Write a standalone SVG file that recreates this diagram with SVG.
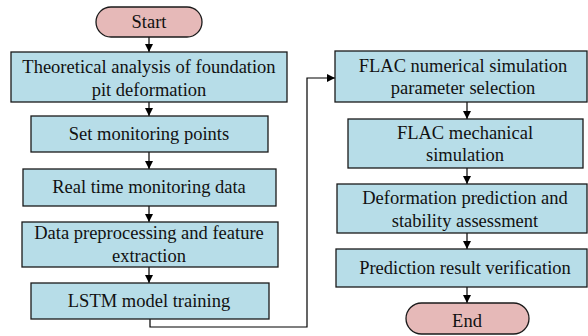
<svg xmlns="http://www.w3.org/2000/svg" width="588" height="336" viewBox="0 0 588 336">
  <style>
    .box { fill: #b7dde8; stroke: #1a1a1a; stroke-width: 1.3; }
    .term { fill: #e6b9b8; stroke: #1a1a1a; stroke-width: 1.3; }
    .lbl { font-family: "Liberation Serif", "DejaVu Serif", serif; font-size: 18.5px; fill: #111; text-anchor: middle; }
    .conn { fill: none; stroke: #000; stroke-width: 1.2; }
  </style>
  <defs>
    <marker id="arrow" viewBox="0 0 10 10" refX="10" refY="5" markerWidth="8" markerHeight="9" markerUnits="userSpaceOnUse" orient="auto">
      <path d="M0,0 L10,5 L0,10 Z" fill="#000"/>
    </marker>
  </defs>

  <rect width="588" height="336" fill="#ffffff"/>

  <g id="connectors">
    <line class="conn" x1="149" y1="37" x2="149" y2="52" marker-end="url(#arrow)"/>
    <line class="conn" x1="149" y1="102" x2="149" y2="116" marker-end="url(#arrow)"/>
    <line class="conn" x1="149" y1="152" x2="149" y2="169" marker-end="url(#arrow)"/>
    <line class="conn" x1="149" y1="206" x2="149" y2="222" marker-end="url(#arrow)"/>
    <line class="conn" x1="149" y1="267" x2="149" y2="283" marker-end="url(#arrow)"/>
    <polyline class="conn" points="150,319 150,327 307,327 307,78 335,78" marker-end="url(#arrow)"/>
    <line class="conn" x1="467" y1="102" x2="467" y2="119" marker-end="url(#arrow)"/>
    <line class="conn" x1="467" y1="168" x2="467" y2="184" marker-end="url(#arrow)"/>
    <line class="conn" x1="467" y1="233" x2="467" y2="249" marker-end="url(#arrow)"/>
    <line class="conn" x1="467" y1="287" x2="467" y2="303" marker-end="url(#arrow)"/>
  </g>

  <g id="start">
    <rect class="term" x="96" y="7" width="106" height="30" rx="15" ry="15"/>
    <text class="lbl" x="149" y="28">Start</text>
  </g>
  <g id="theory">
    <rect class="box" x="11" y="52" width="276" height="50"/>
    <text class="lbl" x="149" y="73">Theoretical analysis of foundation</text>
    <text class="lbl" x="149" y="96">pit deformation</text>
  </g>
  <g id="set-points">
    <rect class="box" x="31" y="116" width="237" height="36"/>
    <text class="lbl" x="149" y="140">Set monitoring points</text>
  </g>
  <g id="monitoring">
    <rect class="box" x="23" y="169" width="253" height="37"/>
    <text class="lbl" x="149" y="193">Real time monitoring data</text>
  </g>
  <g id="preprocess">
    <rect class="box" x="22" y="222" width="256" height="45"/>
    <text class="lbl" x="149" y="239">Data preprocessing and feature</text>
    <text class="lbl" x="149" y="262">extraction</text>
  </g>
  <g id="lstm">
    <rect class="box" x="31" y="283" width="238" height="36"/>
    <text class="lbl" x="149" y="307">LSTM model training</text>
  </g>
  <g id="flac-params">
    <rect class="box" x="335" y="51" width="252" height="51"/>
    <text class="lbl" x="463" y="72">FLAC numerical simulation</text>
    <text class="lbl" x="463" y="94">parameter selection</text>
  </g>
  <g id="flac-mech">
    <rect class="box" x="348" y="119" width="235" height="49"/>
    <text class="lbl" x="465" y="139">FLAC mechanical</text>
    <text class="lbl" x="465" y="161">simulation</text>
  </g>
  <g id="prediction">
    <rect class="box" x="337" y="184" width="250" height="49"/>
    <text class="lbl" x="465" y="204">Deformation prediction and</text>
    <text class="lbl" x="465" y="227">stability assessment</text>
  </g>
  <g id="verification">
    <rect class="box" x="336" y="249" width="251" height="38"/>
    <text class="lbl" x="465" y="274">Prediction result verification</text>
  </g>
  <g id="end">
    <rect class="term" x="406" y="303" width="123" height="31" rx="15.5" ry="15.5"/>
    <text class="lbl" x="467" y="327">End</text>
  </g>
</svg>
